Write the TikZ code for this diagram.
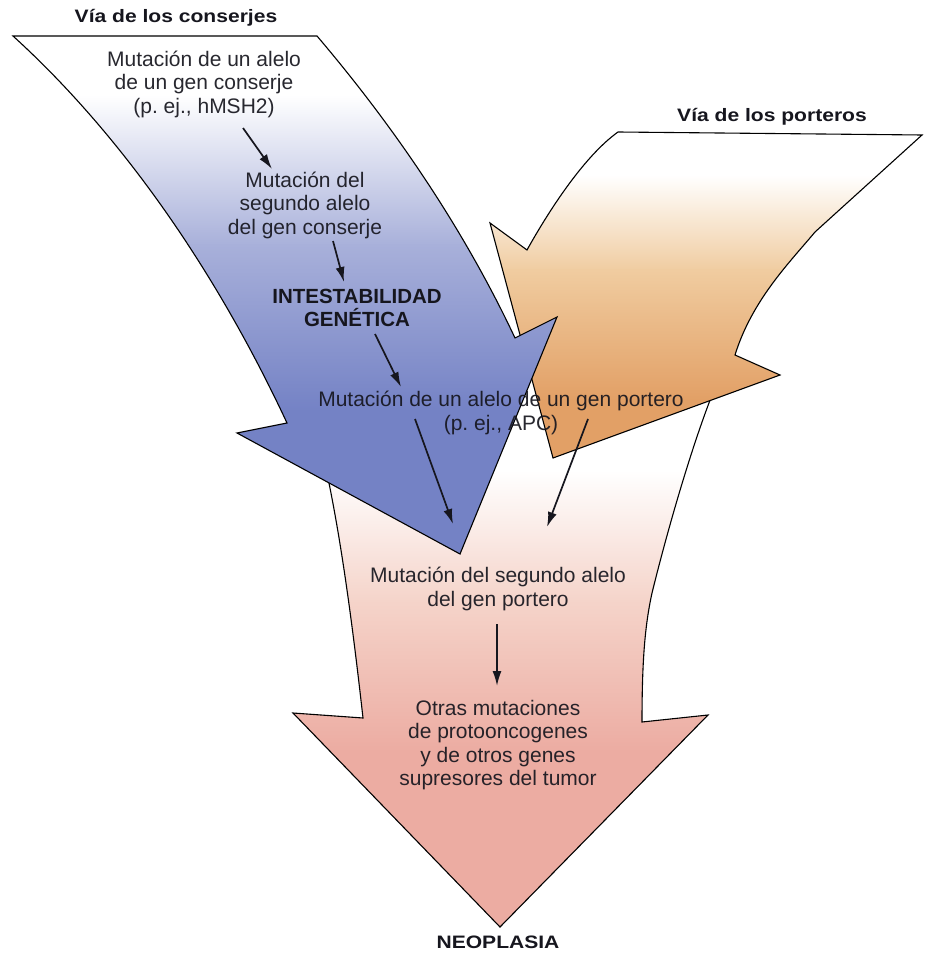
\documentclass[tikz,border=0pt]{standalone}
\usepackage{fontspec}
\setmainfont{Liberation Sans}
\newfontfamily\headfont[FakeStretch=1.17]{Liberation Sans}
\usetikzlibrary{arrows.meta}

\definecolor{blueA}{RGB}{116,130,197}
\definecolor{blueB}{RGB}{168,176,218}
\definecolor{orangeA}{RGB}{226,160,102}
\definecolor{orangeB}{RGB}{240,204,160}
\definecolor{pinkA}{RGB}{236,172,162}
\definecolor{pinkB}{RGB}{245,212,202}
\definecolor{inkc}{RGB}{22,22,30}

\tikzset{
  outline/.style={draw=black, line width=1.1pt, line join=miter},
  body/.style={font=\fontsize{21}{23.5}\selectfont, align=center, text=inkc, text opacity=0.92, inner sep=0pt},
  headlabel/.style={font=\headfont\bfseries\fontsize{18}{20}\selectfont, text=inkc, inner sep=0pt},
  boldlabel/.style={font=\bfseries\fontsize{20.5}{23}\selectfont, align=center, text=inkc, inner sep=0pt},
  steparrow/.style={line width=1.7pt, draw=inkc, -{Latex[length=15pt,width=9pt]}},
}

% outlines of the three broad arrows (pixel-like units, y pointing down)
\def\bluePath{(13,36) -- (317,36) .. controls (402,136) and (468,238) .. (515,338)
  -- (557,317) -- (460,554) -- (237,433) -- (287,423)
  .. controls (217,273) and (123,136) .. (13,36) -- cycle}
\def\orangePath{(618,132) -- (922,135) -- (815,232) .. controls (790,262) and (752,300) .. (735,355)
  -- (780,375) -- (553,458) -- (490,223) -- (527,250)
  .. controls (547,214) and (583,157) .. (618,132) -- cycle}
\def\pinkOpen{(323,455) .. controls (340,530) and (352,620) .. (363,718)
  -- (293,713) -- (500,927) -- (708,715) -- (642,722)
  .. controls (642,660) and (645,625) .. (652,593)
  .. controls (665,540) and (690,450) .. (714,390)}

\begin{document}
\begin{tikzpicture}[x=1pt,y=-1pt]
\useasboundingbox (0,0) rectangle (927,965);
\fill[white] (0,0) rectangle (927,965);

% pink arrow: NEOPLASIA
\begin{scope}
  \clip \pinkOpen -- cycle;
  \fill[white] (0,300) rectangle (927,471);
  \shade[top color=white, bottom color=pinkB] (0,470) rectangle (927,601);
  \shade[top color=pinkB, bottom color=pinkA] (0,600) rectangle (927,751);
  \fill[pinkA] (0,750) rectangle (927,965);
\end{scope}
\draw[outline] \pinkOpen;

% orange arrow: gatekeeper pathway
\begin{scope}
  \clip \orangePath;
  \fill[white] (0,100) rectangle (927,176);
  \shade[top color=white, bottom color=orangeB] (0,175) rectangle (927,271);
  \shade[top color=orangeB, bottom color=orangeA] (0,270) rectangle (927,400);
  \fill[orangeA] (0,399) rectangle (927,500);
\end{scope}
\draw[outline] \orangePath;

% blue arrow: caretaker pathway
\begin{scope}
  \clip \bluePath;
  \fill[white] (0,0) rectangle (927,96);
  \shade[top color=white, bottom color=blueB] (0,95) rectangle (927,246);
  \shade[top color=blueB, bottom color=blueA] (0,245) rectangle (927,411);
  \fill[blueA] (0,410) rectangle (927,600);
\end{scope}
\draw[outline] \bluePath;

% labels
\node[headlabel] (tconserjes) at (176,18) {Vía de los conserjes};
\node[headlabel] (tporteros) at (772,117) {Vía de los porteros};
\node[body] (m1) at (204,84) {Mutación de un alelo\\de un gen conserje\\(p.~ej., hMSH2)};
\node[body] (m2) at (305,205) {Mutación del\\segundo alelo\\del gen conserje};
\node[boldlabel] (inest) at (357,308) {INTESTABILIDAD\\GENÉTICA};
\node[body] (m3) at (501,413) {Mutación de un alelo de un gen portero\\(p.~ej., APC)};
\node[body] (m4) at (498,589) {Mutación del segundo alelo\\del gen portero};
\node[body] (m5) at (498,745) {Otras mutaciones\\de protooncogenes\\y de otros genes\\supresores del tumor};
\node[headlabel] (neo) at (498,942) {NEOPLASIA};

% step arrows
\coordinate (a1s) at (243,128); \coordinate (a1e) at (272,169);
\coordinate (a2s) at (333,241); \coordinate (a2e) at (344,282);
\coordinate (a3s) at (375,334); \coordinate (a3e) at (401,387);
\coordinate (a4s) at (415,419); \coordinate (a4e) at (453,524);
\coordinate (a5s) at (588,419); \coordinate (a5e) at (547,527);
\coordinate (a6s) at (497,624); \coordinate (a6e) at (497,686);
\draw[steparrow] (a1s) -- (a1e);
\draw[steparrow] (a2s) -- (a2e);
\draw[steparrow] (a3s) -- (a3e);
\draw[steparrow] (a4s) -- (a4e);
\draw[steparrow] (a5s) -- (a5e);
\draw[steparrow] (a6s) -- (a6e);
\end{tikzpicture}
\end{document}
